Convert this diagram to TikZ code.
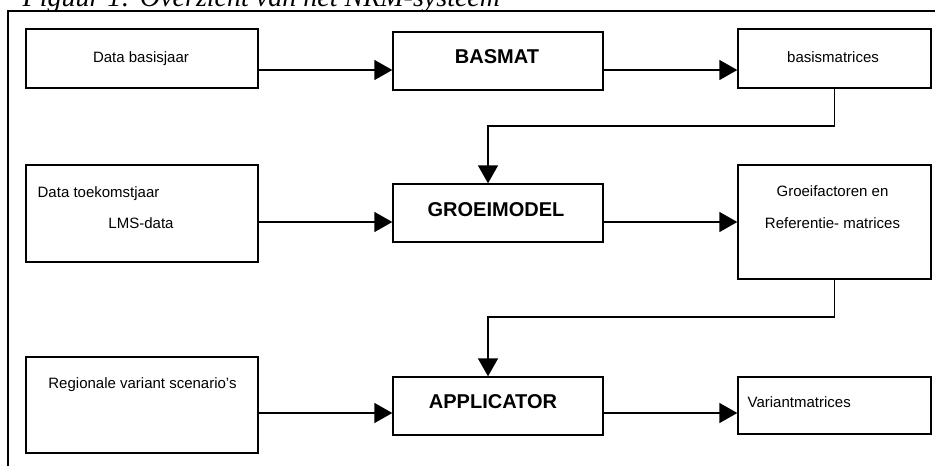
\documentclass[tikz,border=0pt]{standalone}
\usepackage{fontspec}
\setmainfont{Liberation Sans}
\newfontfamily\titlefont{Liberation Serif}
\usetikzlibrary{arrows.meta}
\begin{document}
\begin{tikzpicture}[x=0.75pt,y=-0.75pt, line width=1pt,
  box/.style={draw, line width=1pt, inner sep=0pt, rectangle},
  lbl/.style={inner sep=0pt, anchor=base, font=\fontsize{11.25}{13}\selectfont},
  blbl/.style={inner sep=0pt, anchor=base, font=\fontsize{15}{18}\selectfont\bfseries},
  arr/.style={-{Triangle[length=13.5pt,width=15pt]}}]
\clip (0,0) rectangle (935,465);
\fill[white] (0,0) rectangle (935,465);
% title (cut off at the top)
\node[inner sep=0pt, anchor=base west, font=\titlefont\itshape\fontsize{21}{24}\selectfont] (title) at (22,6.5) {Figuur 1: Overzicht van het NRM-systeem};
% frame
\draw (8,480) -- (8,11) -- (950,11);
% row 1
\node[box, minimum width=174pt, minimum height=44.25pt] (b1) at (142,58.5) {};
\node[lbl] (t1) at (141,62) {Data basisjaar};
\node[box, minimum width=157.5pt, minimum height=43.5pt] (bas) at (498,61) {};
\node[blbl] (t2) at (497,63) {BASMAT};
\node[box, minimum width=144.75pt, minimum height=44.25pt] (bm) at (834.5,58.5) {};
\node[lbl] (t3) at (833,62) {basismatrices};
% row 2
\node[box, minimum width=174pt, minimum height=72.75pt] (b4) at (142,213.5) {};
\node[lbl, anchor=base west] (t4) at (37,197) {Data toekomstjaar};
\node[lbl] (t5) at (141,228) {LMS-data};
\node[box, minimum width=157.5pt, minimum height=43.5pt] (gm) at (498,213) {};
\node[blbl] (t6) at (496,216) {GROEIMODEL};
\node[box, minimum width=144.75pt, minimum height=85.5pt] (gf) at (834.5,222) {};
\node[lbl] (t7) at (832.5,196) {Groeifactoren en};
\node[lbl] (t8) at (832.5,228) {Referentie- matrices};
% row 3
\node[box, minimum width=174pt, minimum height=72pt] (rg) at (142,405) {};
\node[lbl] (t9) at (142.5,388) {Regionale variant scenario's};
\node[box, minimum width=157.5pt, minimum height=43.5pt] (ap) at (498,406) {};
\node[blbl] (t10) at (493,408) {APPLICATOR};
\node[box, minimum width=144.75pt, minimum height=42.75pt] (vm) at (834.5,405.5) {};
\node[lbl, anchor=base west] (t11) at (747,407) {Variantmatrices};
% helper coordinates
\coordinate (y1) at (0,70);
\coordinate (y2) at (0,222);
\coordinate (y3) at (0,413);
\coordinate (k1) at (488,126);
\coordinate (k2) at (488,317);
% horizontal arrows
\draw[arr] (b1.east |- y1) -- (bas.west |- y1);
\draw[arr] (bas.east |- y1) -- (bm.west |- y1);
\draw[arr] (b4.east |- y2) -- (gm.west |- y2);
\draw[arr] (gm.east |- y2) -- (gf.west |- y2);
\draw[arr] (rg.east |- y3) -- (ap.west |- y3);
\draw[arr] (ap.east |- y3) -- (vm.west |- y3);
% feedback connectors
\draw[arr] (bm.south) |- (k1) -- (k1 |- gm.north);
\draw[arr] (gf.south) |- (k2) -- (k2 |- ap.north);
\end{tikzpicture}
\end{document}
